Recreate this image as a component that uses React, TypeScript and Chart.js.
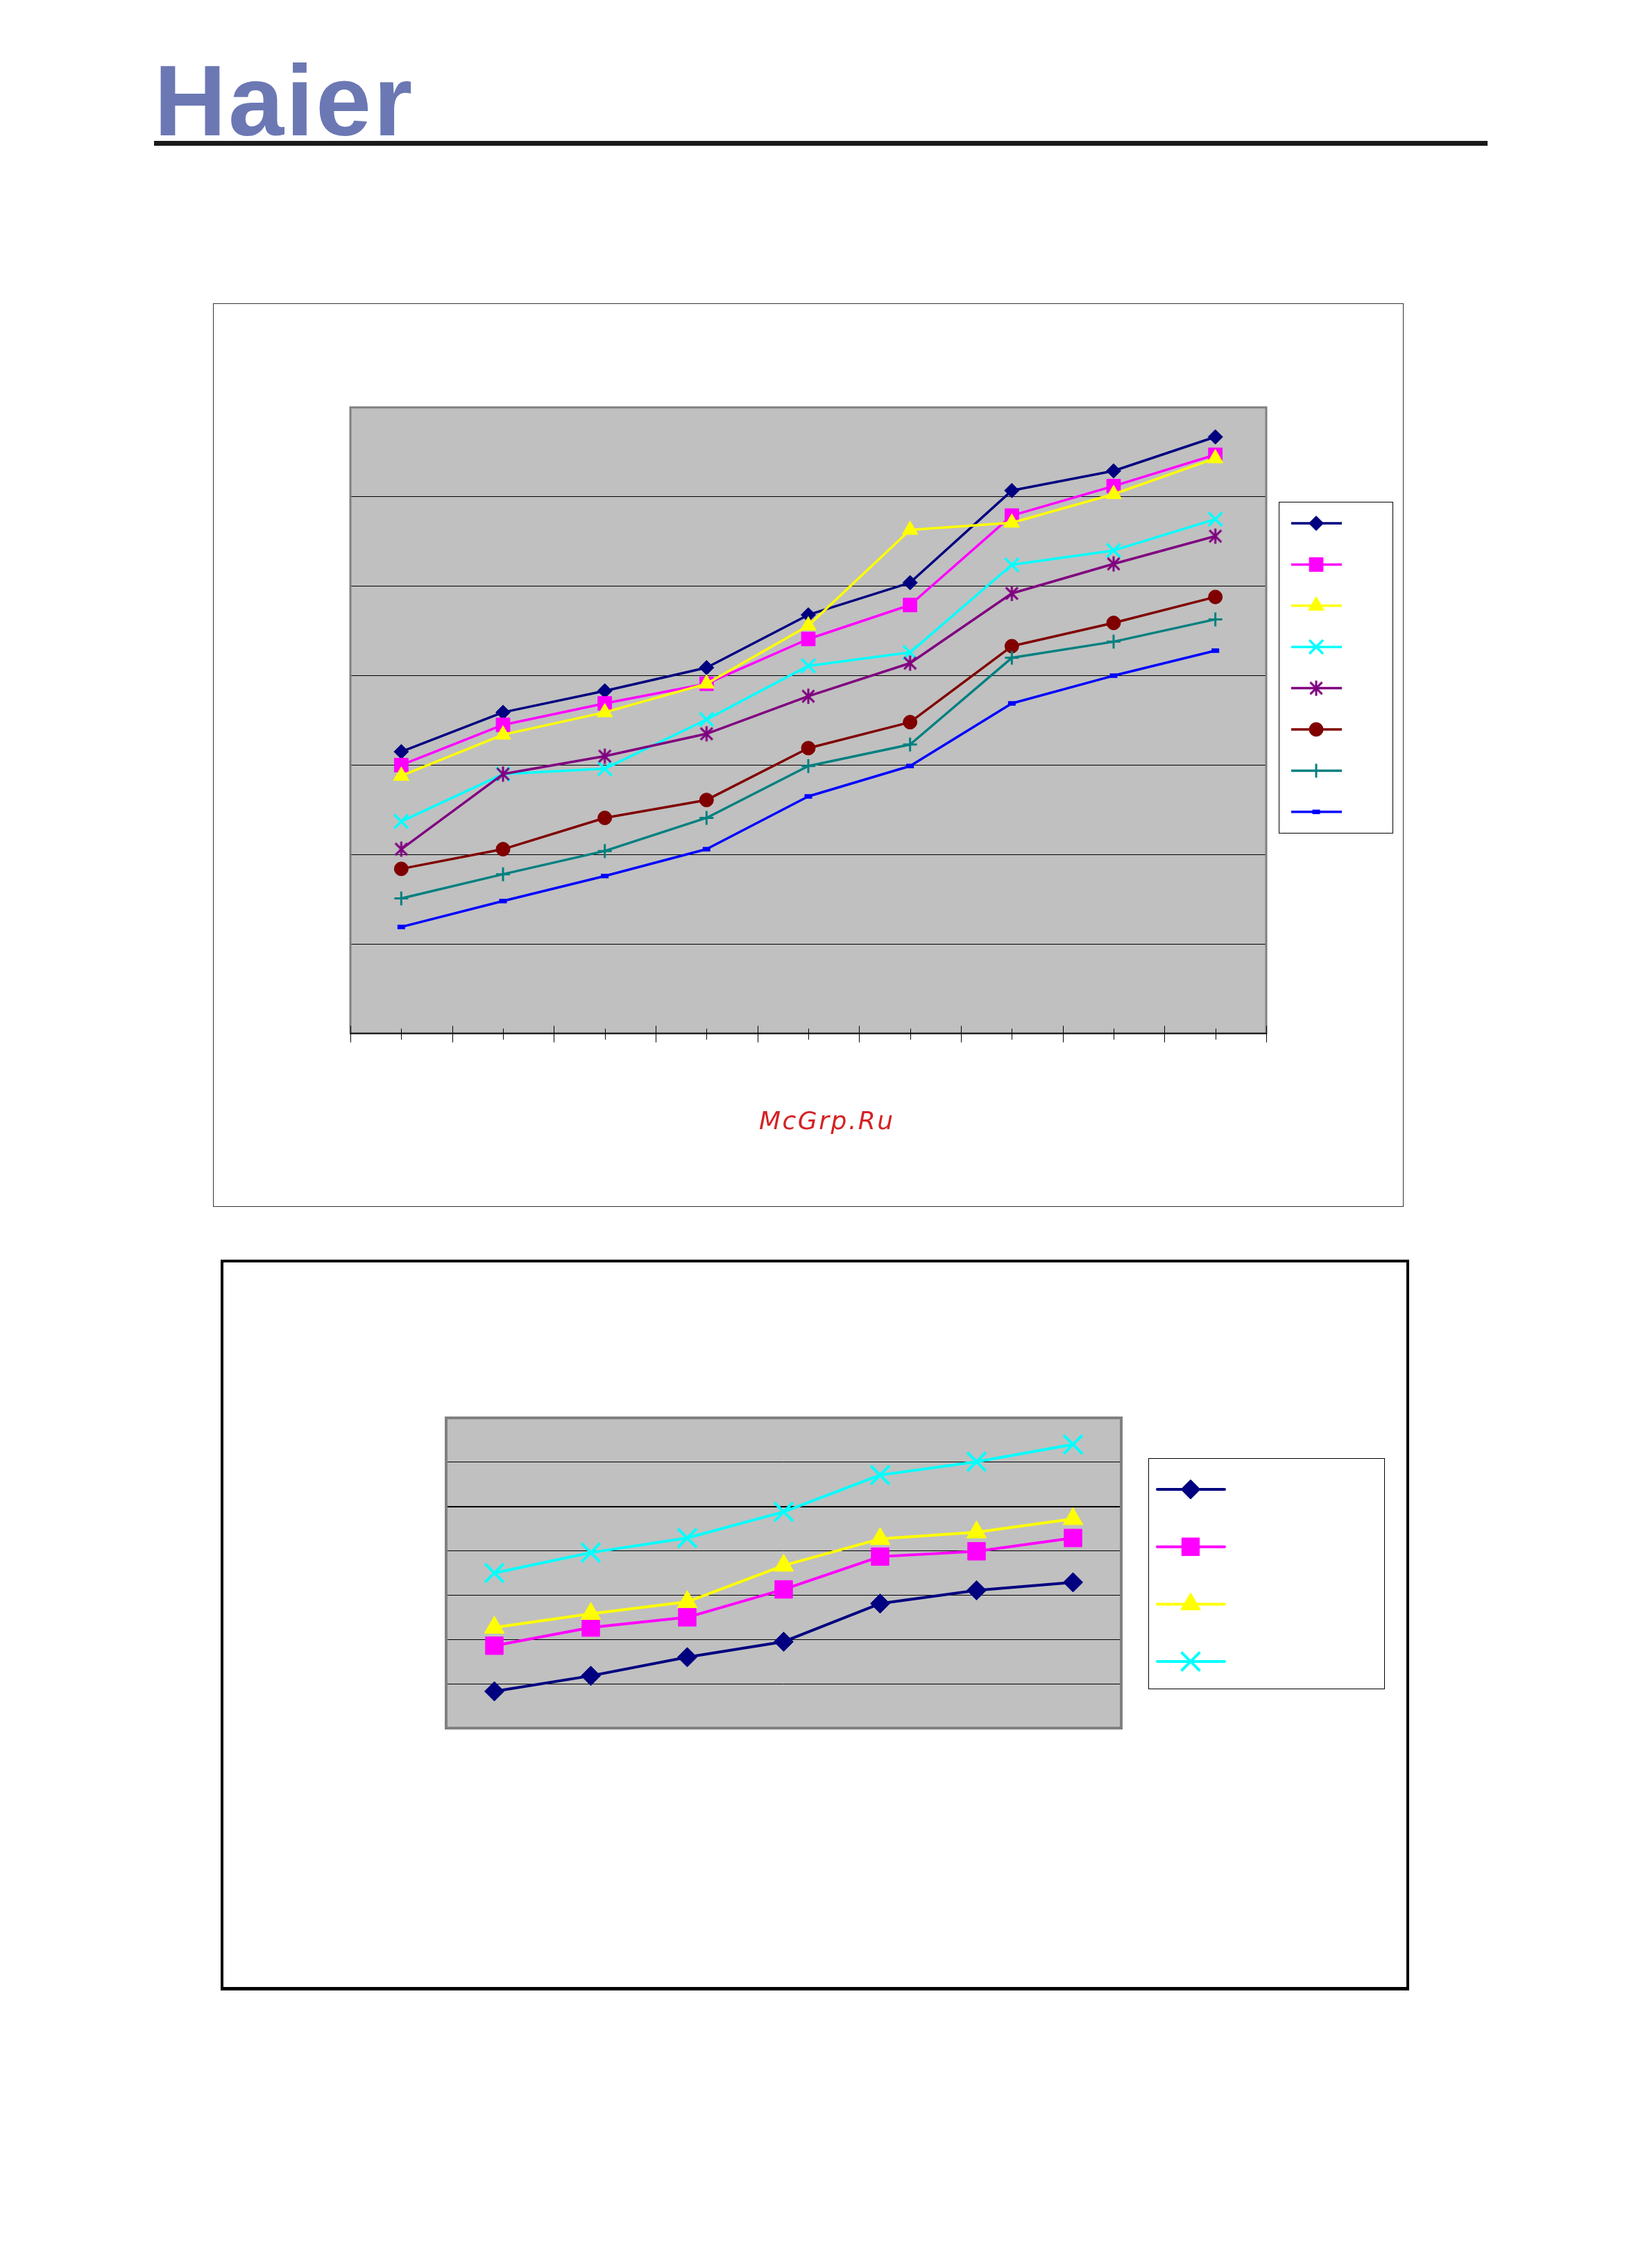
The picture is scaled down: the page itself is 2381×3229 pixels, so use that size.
import React, { useEffect, useRef } from 'react';
import { Chart, registerables } from 'chart.js';
import { drawPoint } from 'chart.js/helpers';

Chart.register(...registerables);

// ---------------- Upper chart: 9 categories, 8 series ----------------
const upperCategories = ['1', '2', '3', '4', '5', '6', '7', '8', '9'];
const upperSeries1 = [31.5, 35.9, 38.3, 40.9, 46.8, 50.4, 60.7, 62.9, 66.7];
const upperSeries2 = [30.0, 34.5, 36.9, 39.1, 44.1, 47.9, 57.9, 61.2, 64.7];
const upperSeries3 = [28.8, 33.4, 35.9, 39.1, 45.6, 56.3, 57.1, 60.3, 64.3];
const upperSeries4 = [23.7, 29.0, 29.6, 35.1, 41.1, 42.6, 52.4, 54.0, 57.5];
const upperSeries5 = [20.6, 29.0, 31.0, 33.5, 37.7, 41.4, 49.2, 52.5, 55.6];
const upperSeries6 = [18.4, 20.6, 24.1, 26.1, 31.9, 34.8, 43.3, 45.9, 48.8];
const upperSeries7 = [15.1, 17.8, 20.4, 24.1, 29.9, 32.3, 42.0, 43.8, 46.3];
const upperSeries8 = [11.9, 14.8, 17.6, 20.6, 26.5, 29.9, 36.9, 40.0, 42.8];
const upperSeriesNames = ['S1', 'S2', 'S3', 'S4', 'S5', 'S6', 'S7', 'S8'];
const upperYTicks = [0, 10, 20, 30, 40, 50, 60, 70];

// ---------------- Lower chart: 7 categories, 4 series ----------------
const lowerCategories = ['1', '2', '3', '4', '5', '6', '7'];
const lowerSeries1 = [8.3, 11.8, 16.0, 19.5, 28.1, 31.1, 32.9];
const lowerSeries2 = [18.6, 22.7, 25.0, 31.3, 38.7, 39.9, 42.9];
const lowerSeries3 = [22.7, 25.8, 28.5, 36.7, 42.7, 44.2, 47.2];
const lowerSeries4 = [35.0, 39.6, 42.9, 48.8, 57.1, 60.1, 64.0];
const lowerSeriesNames = ['S1', 'S2', 'S3', 'S4'];
const lowerYTicks = [0, 10, 20, 30, 40, 50, 60, 70];

function makeAsterisk(color: string, size: number, lw: number) {
  const c = document.createElement('canvas');
  c.width = size;
  c.height = size;
  const g = c.getContext('2d')!;
  g.strokeStyle = color;
  g.lineWidth = lw;
  const m = size / 2;
  const a = size / 2 - 1;
  const d = a * 0.78;
  g.beginPath();
  g.moveTo(m, m - a);
  g.lineTo(m, m + a);
  g.moveTo(m - d, m - d);
  g.lineTo(m + d, m + d);
  g.moveTo(m + d, m - d);
  g.lineTo(m - d, m + d);
  g.stroke();
  return c;
}

type LegendCfg = { dx: number; dy: number; w: number; h: number; first: number; step: number; x1: number; x2: number; xm: number; cap: CanvasLineCap };

function drawLegend(chart: any, cfg: LegendCfg) {
  const { ctx, chartArea: a } = chart;
  const left = Math.round(a.right + cfg.dx);
  const top = Math.round(a.top + cfg.dy);
  ctx.save();
  ctx.fillStyle = '#ffffff';
  ctx.fillRect(left, top, cfg.w, cfg.h);
  ctx.strokeStyle = '#000000';
  ctx.lineWidth = 1;
  ctx.strokeRect(left + 0.5, top + 0.5, cfg.w, cfg.h);
  chart.data.datasets.forEach((ds: any, i: number) => {
    const y = top + cfg.first + i * cfg.step;
    ctx.beginPath();
    ctx.strokeStyle = ds.borderColor;
    ctx.lineWidth = ds.borderWidth;
    ctx.lineCap = cfg.cap;
    ctx.moveTo(left + cfg.x1, y);
    ctx.lineTo(left + cfg.x2, y);
    ctx.stroke();
    ctx.lineCap = 'butt';
    ctx.fillStyle = ds.pointBackgroundColor;
    ctx.strokeStyle = ds.pointBorderColor;
    ctx.lineWidth = ds.pointBorderWidth;
    drawPoint(ctx, { pointStyle: ds.pointStyle, radius: ds.pointRadius, borderWidth: ds.pointBorderWidth, rotation: 0 } as any, left + cfg.xm, y);
  });
  ctx.restore();
}

function makeDatasets(series: number[][], names: string[], styles: any[], lineWidth: number) {
  return series.map((data, i) => ({
    label: names[i],
    data,
    borderColor: styles[i].color,
    backgroundColor: styles[i].color,
    borderWidth: lineWidth,
    borderJoinStyle: 'round',
    pointStyle: styles[i].pointStyle,
    pointRadius: styles[i].radius,
    pointHoverRadius: styles[i].radius,
    pointBackgroundColor: styles[i].color,
    pointBorderColor: styles[i].color,
    pointBorderWidth: styles[i].pbw,
    tension: 0,
    fill: false,
    order: -i,
  }));
}

function UpperChart() {
  const ref = useRef<HTMLCanvasElement>(null);
  useEffect(() => {
    const asterisk = makeAsterisk('#800080', 24, 3);
    const styles = [
      { color: '#000080', pointStyle: 'rectRot', radius: 10.5, pbw: 1 },
      { color: '#ff00ff', pointStyle: 'rect', radius: 14, pbw: 1 },
      { color: '#ffff00', pointStyle: 'triangle', radius: 13, pbw: 1 },
      { color: '#00ffff', pointStyle: 'crossRot', radius: 14, pbw: 3.5 },
      { color: '#800080', pointStyle: asterisk, radius: 11, pbw: 3 },
      { color: '#800000', pointStyle: 'circle', radius: 10, pbw: 1 },
      { color: '#008080', pointStyle: 'cross', radius: 10, pbw: 3 },
      { color: '#0000ff', pointStyle: 'line', radius: 5.5, pbw: 6.5 },
    ];
    const series = [upperSeries1, upperSeries2, upperSeries3, upperSeries4, upperSeries5, upperSeries6, upperSeries7, upperSeries8];
    const decor = {
      id: 'upperDecor',
      beforeDraw(chart: any) {
        const { ctx, chartArea: a } = chart;
        ctx.save();
        ctx.fillStyle = '#c0c0c0';
        ctx.fillRect(a.left, a.top, a.right - a.left, a.bottom - a.top);
        ctx.restore();
      },
      afterDraw(chart: any) {
        const { ctx, chartArea: a } = chart;
        const xs = chart.scales.x;
        ctx.save();
        ctx.strokeStyle = '#808080';
        ctx.lineWidth = 3;
        ctx.strokeRect(a.left, a.top, a.right - a.left, a.bottom - a.top);
        ctx.strokeStyle = '#000000';
        ctx.lineWidth = 1.5;
        ctx.beginPath();
        ctx.moveTo(a.left, a.bottom);
        ctx.lineTo(a.right, a.bottom);
        ctx.stroke();
        ctx.lineWidth = 1;
        ctx.beginPath();
        const n = upperCategories.length;
        for (let i = 0; i < n; i++) {
          const px = Math.round(xs.getPixelForValue(i)) + 0.5;
          ctx.moveTo(px, a.bottom - 7);
          ctx.lineTo(px, a.bottom + 9);
        }
        for (let i = 0; i <= n; i++) {
          let bx;
          if (i === 0) bx = a.left;
          else if (i === n) bx = a.right;
          else bx = (xs.getPixelForValue(i - 1) + xs.getPixelForValue(i)) / 2;
          bx = Math.round(bx) + 0.5;
          ctx.moveTo(bx, a.bottom - 11);
          ctx.lineTo(bx, a.bottom + 13);
        }
        ctx.stroke();
        ctx.restore();
        drawLegend(chart, { dx: 18, dy: 136, w: 164, h: 477, first: 31, step: 59.4, x1: 18, x2: 91, xm: 54, cap: 'butt' });
      },
    };
    const chart = new Chart(ref.current!, {
      type: 'line',
      data: { labels: upperCategories, datasets: makeDatasets(series, upperSeriesNames, styles, 3.5) as any },
      options: {
        responsive: false,
        animation: false,
        events: [],
        layout: { padding: { left: 197, top: 149, right: 197, bottom: 249 } },
        plugins: { legend: { display: false }, tooltip: { enabled: false }, title: { display: false } },
        scales: {
          x: {
            offset: true,
            ticks: { display: false },
            grid: { display: false, drawTicks: false },
            border: { display: false },
          },
          y: {
            min: upperYTicks[0],
            max: upperYTicks[upperYTicks.length - 1],
            ticks: { display: false, stepSize: upperYTicks[1] - upperYTicks[0] },
            grid: { color: '#000000', lineWidth: 1, drawTicks: false },
            border: { display: false },
          },
        },
      },
      plugins: [decor],
    });
    return () => chart.destroy();
  }, []);
  return <canvas ref={ref} width={1714} height={1300} style={{ display: 'block', width: 1714, height: 1300 }} />;
}

function LowerChart() {
  const ref = useRef<HTMLCanvasElement>(null);
  useEffect(() => {
    const styles = [
      { color: '#000080', pointStyle: 'rectRot', radius: 14, pbw: 1 },
      { color: '#ff00ff', pointStyle: 'rect', radius: 18, pbw: 1 },
      { color: '#ffff00', pointStyle: 'triangle', radius: 16.5, pbw: 1 },
      { color: '#00ffff', pointStyle: 'crossRot', radius: 19, pbw: 4 },
    ];
    const series = [lowerSeries1, lowerSeries2, lowerSeries3, lowerSeries4];
    const decor = {
      id: 'lowerDecor',
      beforeDraw(chart: any) {
        const { ctx, chartArea: a } = chart;
        ctx.save();
        ctx.fillStyle = '#c0c0c0';
        ctx.fillRect(a.left, a.top, a.right - a.left, a.bottom - a.top);
        ctx.restore();
      },
      afterDraw(chart: any) {
        const { ctx, chartArea: a } = chart;
        ctx.save();
        ctx.strokeStyle = '#808080';
        ctx.lineWidth = 4;
        ctx.strokeRect(a.left, a.top, a.right - a.left, a.bottom - a.top);
        ctx.restore();
        drawLegend(chart, { dx: 39, dy: 58, w: 340, h: 332, first: 45, step: 82.7, x1: 13, x2: 110, xm: 61, cap: 'round' });
      },
    };
    const chart = new Chart(ref.current!, {
      type: 'line',
      data: { labels: lowerCategories, datasets: makeDatasets(series, lowerSeriesNames, styles, 4) as any },
      options: {
        responsive: false,
        animation: false,
        events: [],
        layout: { padding: { left: 321, top: 224, right: 411, bottom: 373 } },
        plugins: { legend: { display: false }, tooltip: { enabled: false }, title: { display: false } },
        scales: {
          x: {
            offset: true,
            ticks: { display: false },
            grid: { display: false, drawTicks: false },
            border: { display: false },
          },
          y: {
            min: lowerYTicks[0],
            max: lowerYTicks[lowerYTicks.length - 1],
            ticks: { display: false, stepSize: lowerYTicks[1] - lowerYTicks[0] },
            grid: {
              color: '#000000',
              lineWidth: (c: any) => (c.tick && c.tick.value === 50 ? 2 : 1),
              drawTicks: false,
            },
            border: { display: false },
          },
        },
      },
      plugins: [decor],
    });
    return () => chart.destroy();
  }, []);
  return <canvas ref={ref} width={1705} height={1044} style={{ display: 'block', width: 1705, height: 1044 }} />;
}

export default function App() {
  return (
    <div style={{ position: 'absolute', left: 0, top: 0, width: 2381, height: 3229, background: '#ffffff', overflow: 'hidden' }}>
      <div
        style={{
          position: 'absolute',
          left: 222,
          top: 74,
          fontFamily: '"Liberation Sans", Arial, sans-serif',
          fontWeight: 700,
          fontSize: 144,
          lineHeight: 1,
          letterSpacing: '3px',
          color: '#6b78b3',
          whiteSpace: 'nowrap',
        }}
      >
        Haier
      </div>
      <div style={{ position: 'absolute', left: 222, top: 203, width: 1922, height: 7, background: '#1a1a1a' }} />

      <div
        style={{
          position: 'absolute',
          left: 307,
          top: 437,
          width: 1716,
          height: 1302,
          border: '1px solid #333333',
          boxSizing: 'border-box',
        }}
      >
        <UpperChart />
      </div>
      <div
        style={{
          position: 'absolute',
          left: 1094,
          top: 1597,
          fontFamily: '"DejaVu Sans", sans-serif',
          fontStyle: 'oblique',
          fontSize: 36,
          lineHeight: 1,
          letterSpacing: '2.5px',
          color: '#d42224',
          whiteSpace: 'nowrap',
          zIndex: 2,
        }}
      >
        McGrp.Ru
      </div>

      <div
        style={{
          position: 'absolute',
          left: 318,
          top: 1815,
          width: 1713,
          height: 1053,
          borderStyle: 'solid',
          borderColor: '#000000',
          borderWidth: '4px 4px 5px 4px',
          boxSizing: 'border-box',
        }}
      >
        <LowerChart />
      </div>
    </div>
  );
}
